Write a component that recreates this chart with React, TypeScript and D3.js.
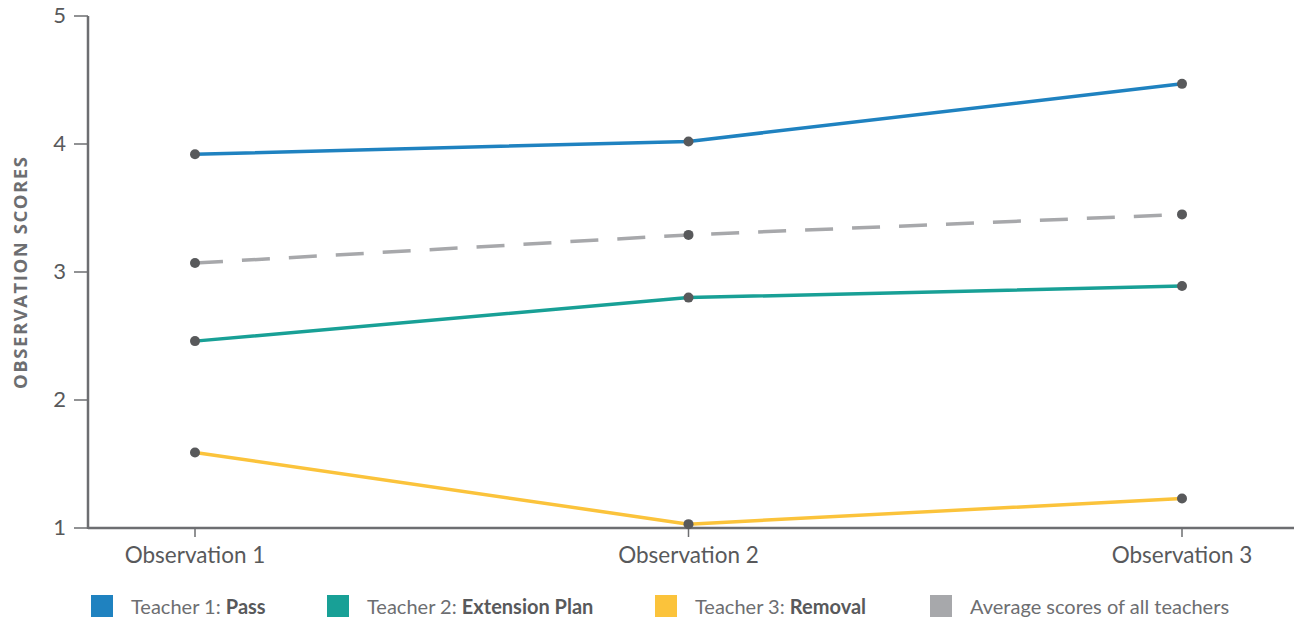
import React from "react";
import * as d3 from "d3";

const categories = ["Observation 1", "Observation 2", "Observation 3"];
const teacher1 = [3.92, 4.02, 4.47];
const teacher2 = [2.46, 2.8, 2.89];
const teacher3 = [1.59, 1.03, 1.23];
const average = [3.07, 3.29, 3.45];
const yTicks = [1, 2, 3, 4, 5];

const series = [
  { key: "avg", values: average, color: "#a7a8ab", dash: "28,19", width: 3.5 },
  { key: "t1", values: teacher1, color: "#1f82c0", dash: null, width: 3.5 },
  { key: "t2", values: teacher2, color: "#18a096", dash: null, width: 3.5 },
  { key: "t3", values: teacher3, color: "#fbc33b", dash: null, width: 3.5 },
];

const legend = [
  { pre: "Teacher 1: ", bold: "Pass", color: "#1f82c0", x: 91 },
  { pre: "Teacher 2: ", bold: "Extension Plan", color: "#18a096", x: 327 },
  { pre: "Teacher 3: ", bold: "Removal", color: "#fbc33b", x: 655 },
  { pre: "Average scores of all teachers", bold: "", color: "#a7a8ab", x: 930 },
];

export default function App() {
  const W = 1294, H = 620;
  const x = d3.scalePoint<string>().domain(categories).range([195, 1182]);
  const y = d3.scaleLinear().domain([1, 5]).range([528, 16]);
  const line = d3
    .line<number>()
    .x((_, i) => x(categories[i]) as number)
    .y((d) => y(d));
  const font = "Lato, 'Open Sans', sans-serif";
  const textColor = "#58595b";
  return (
    <svg
      width={W}
      height={H}
      style={{ position: "absolute", left: 0, top: 0, background: "#fff" }}
      fontFamily={font}
    >
      {/* axes */}
      <line x1={88} x2={88} y1={y(5)} y2={y(1) + 1} stroke="#6d6e71" strokeWidth={2.5} />
      <line x1={88} x2={W} y1={y(1)} y2={y(1)} stroke="#6d6e71" strokeWidth={2.5} />
      {yTicks.map((t) => (
        <g key={t}>
          <line x1={74} x2={88} y1={y(t)} y2={y(t)} stroke="#6d6e71" strokeWidth={1.5} />
          <text x={66} y={y(t)} dy="0.3em" textAnchor="end" fontSize={22} fill={textColor}>
            {t}
          </text>
        </g>
      ))}
      {categories.map((c) => (
        <g key={c}>
          <line x1={x(c)} x2={x(c)} y1={y(1)} y2={y(1) + 9} stroke="#6d6e71" strokeWidth={1.5} />
          <text x={x(c)} y={563} textAnchor="middle" fontSize={22.5} fill={textColor}>
            {c}
          </text>
        </g>
      ))}
      <text
        transform={`translate(27,${273}) rotate(-90)`}
        textAnchor="middle"
        fontSize={18.5}
        fontWeight="bold"
        fontFamily="'Open Sans', Lato, sans-serif"
        textLength={232}
        lengthAdjust="spacing"
        fill="#6d6e71"
      >
        OBSERVATION SCORES
      </text>
      {/* lines */}
      {series.map((s) => (
        <path
          key={s.key}
          d={line(s.values) as string}
          fill="none"
          stroke={s.color}
          strokeWidth={s.width}
          strokeDasharray={s.dash || undefined}
        />
      ))}
      {series.map((s) =>
        s.values.map((v, i) => (
          <circle key={s.key + i} cx={x(categories[i])} cy={y(v)} r={5} fill="#58595b" />
        ))
      )}
      {/* legend */}
      {legend.map((l) => (
        <g key={l.pre}>
          <rect x={l.x} y={595} width={22} height={22} fill={l.color} />
          <text x={l.x + 40} y={614} fontSize={20} fill="#6d6e71">
            {l.pre}
            {l.bold && <tspan fontWeight="bold" fill="#58595b">{l.bold}</tspan>}
          </text>
        </g>
      ))}
    </svg>
  );
}
